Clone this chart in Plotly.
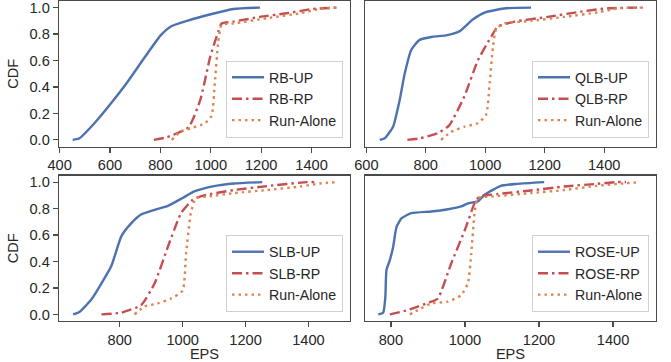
import plotly.graph_objects as go

# ---------------- data ----------------
# Panel 1: RB
rb_up_x = [452, 479, 538, 604, 670, 735, 801, 840, 906, 1000, 1090, 1195]
rb_up_y = [0.0, 0.013, 0.126, 0.277, 0.44, 0.617, 0.79, 0.856, 0.90, 0.95, 0.99, 1.0]
rb_rp_x = [774, 826, 912, 958, 998, 1030, 1043, 1090, 1195, 1300, 1405, 1500]
rb_rp_y = [0.0, 0.02, 0.096, 0.30, 0.63, 0.82, 0.88, 0.894, 0.93, 0.957, 0.99, 1.0]
rb_ra_x = [845, 878, 924, 976, 1003, 1016, 1029, 1043, 1090, 1222, 1354, 1433, 1500]
rb_ra_y = [0.0, 0.06, 0.09, 0.126, 0.18, 0.43, 0.73, 0.87, 0.88, 0.92, 0.957, 0.99, 1.0]

# Panel 2: QLB
qlb_up_x = [645, 662, 690, 712, 729, 751, 779, 823, 868, 913, 958, 1002, 1070, 1154]
qlb_up_y = [0.0, 0.013, 0.10, 0.30, 0.50, 0.68, 0.756, 0.78, 0.79, 0.82, 0.91, 0.965, 0.995, 1.0]
qlb_rp_x = [738, 783, 840, 879, 930, 975, 1020, 1042, 1098, 1211, 1323, 1413, 1530]
qlb_rp_y = [0.0, 0.013, 0.05, 0.11, 0.33, 0.60, 0.78, 0.856, 0.894, 0.93, 0.97, 0.995, 1.0]
qlb_ra_x = [851, 885, 930, 975, 1003, 1015, 1026, 1037, 1065, 1155, 1267, 1380, 1447, 1525]
qlb_ra_y = [0.0, 0.06, 0.10, 0.126, 0.19, 0.43, 0.70, 0.84, 0.88, 0.90, 0.93, 0.965, 0.995, 1.0]

# Panel 3: SLB
slb_up_x = [652, 673, 709, 742, 774, 805, 837, 868, 911, 953, 1000, 1037, 1100, 1163, 1253]
slb_up_y = [0.0, 0.02, 0.11, 0.235, 0.37, 0.59, 0.69, 0.755, 0.79, 0.82, 0.88, 0.93, 0.97, 0.99, 1.0]
slb_rp_x = [742, 805, 868, 911, 953, 995, 1032, 1068, 1163, 1268, 1395, 1420]
slb_rp_y = [0.0, 0.013, 0.07, 0.235, 0.51, 0.765, 0.866, 0.90, 0.94, 0.97, 1.0, 1.0]
slb_ra_x = [847, 879, 921, 963, 1000, 1011, 1026, 1042, 1079, 1163, 1268, 1374, 1437, 1490]
slb_ra_y = [0.0, 0.06, 0.083, 0.12, 0.18, 0.46, 0.765, 0.88, 0.89, 0.917, 0.94, 0.967, 0.99, 1.0]

# Panel 4: ROSE
rose_up_x = [766, 779, 785, 788, 797, 806, 815, 829, 855, 909, 954, 990, 1008, 1035, 1053, 1097, 1142, 1214]
rose_up_y = [0.0, 0.013, 0.134, 0.336, 0.41, 0.51, 0.66, 0.727, 0.765, 0.778, 0.795, 0.816, 0.84, 0.854, 0.904, 0.972, 0.987, 1.0]
rose_rp_x = [797, 846, 909, 927, 963, 1000, 1026, 1039, 1089, 1178, 1268, 1357, 1410, 1435]
rose_rp_y = [0.0, 0.033, 0.096, 0.12, 0.386, 0.64, 0.84, 0.89, 0.91, 0.937, 0.967, 0.987, 1.0, 1.0]
rose_ra_x = [851, 873, 909, 954, 990, 1008, 1017, 1026, 1035, 1071, 1178, 1268, 1357, 1428, 1473]
rose_ra_y = [0.0, 0.033, 0.083, 0.096, 0.146, 0.235, 0.46, 0.765, 0.88, 0.89, 0.917, 0.94, 0.972, 0.99, 1.0]

panel_names = ["RB", "QLB", "SLB", "ROSE"]
x_ticks = [[400, 600, 800, 1000, 1200, 1400],
           [600, 800, 1000, 1200, 1400],
           [800, 1000, 1200, 1400],
           [800, 1000, 1200, 1400]]
y_ticks = [0.0, 0.2, 0.4, 0.6, 0.8, 1.0]
x_ranges = [[397.5, 1552.5], [595.5, 1574.5], [607, 1532], [730, 1516]]

panels = [
    [(rb_up_x, rb_up_y), (rb_rp_x, rb_rp_y), (rb_ra_x, rb_ra_y)],
    [(qlb_up_x, qlb_up_y), (qlb_rp_x, qlb_rp_y), (qlb_ra_x, qlb_ra_y)],
    [(slb_up_x, slb_up_y), (slb_rp_x, slb_rp_y), (slb_ra_x, slb_ra_y)],
    [(rose_up_x, rose_up_y), (rose_rp_x, rose_rp_y), (rose_ra_x, rose_ra_y)],
]

# ---------------- style ----------------
BLUE = "#4c72b0"
RED = "#c44e52"
ORANGE = "#dd8452"
SPINE = "#4a4a4a"
TEXT = "#262626"
FONT = "Liberation Sans"
FS = 14.6
LFS = 14.2

W, H = 671, 362
ML, MR, MT, MB = 59, 15, 1, 41
pw = W - ML - MR
ph = H - MT - MB

col_px = [(59, 350), (365, 656)]
row_px = [(1, 146.5), (175.5, 321)]

def xd(px):
    return (px - ML) / pw

def yd(py):
    return (H - MB - py) / ph

fig = go.Figure()

styles = [
    dict(color=BLUE, width=2.4, dash="solid", shape="spline", smoothing=0.5),
    dict(color=RED, width=2.4, dash="10px,4px,2.5px,4px", shape="spline", smoothing=0.5),
    dict(color=ORANGE, width=2.4, dash="2.5px,4px", shape="spline", smoothing=0.5),
]

for i, name in enumerate(panel_names):
    r, c = divmod(i, 2)
    ax = "" if i == 0 else str(i + 1)
    labels = [f"{name}-UP", f"{name}-RP", "Run-Alone"]
    leg = "legend" if i == 0 else f"legend{i + 1}"
    for (xs, ys), lab, st in zip(panels[i], labels, styles):
        fig.add_trace(go.Scatter(
            x=xs, y=ys, mode="lines", name=lab, line=st,
            xaxis="x" + ax, yaxis="y" + ax, legend=leg,
        ))
    x0, x1 = col_px[c]
    y0, y1 = row_px[r]
    xa = dict(
        domain=[xd(x0), xd(x1)], range=x_ranges[i], anchor="y" + ax,
        tickvals=x_ticks[i], ticks="outside", ticklen=5, tickwidth=1.2,
        tickcolor=SPINE, showline=True, linecolor=SPINE, linewidth=1.3,
        mirror=True, showgrid=False, zeroline=False, automargin=False,
        ticklabeloverflow="allow",
        tickfont=dict(family=FONT, size=FS, color=TEXT),
    )
    if r == 1:
        xa["title"] = dict(text="EPS", font=dict(family=FONT, size=FS, color=TEXT), standoff=2)
    ya = dict(
        domain=[yd(y1), yd(y0)], range=[-0.05, 1.05], anchor="x" + ax,
        tickvals=y_ticks, ticktext=[f"{v:.1f}" for v in y_ticks],
        showline=True, linecolor=SPINE, linewidth=1.3, mirror=True,
        showgrid=False, zeroline=False, automargin=False,
        ticklabeloverflow="allow",
        tickfont=dict(family=FONT, size=FS, color=TEXT),
    )
    if c == 0:
        ya.update(ticks="outside", ticklen=5, tickwidth=1.2, tickcolor=SPINE,
                  title=dict(text="CDF", font=dict(family=FONT, size=FS, color=TEXT), standoff=7))
    else:
        ya.update(ticks="", showticklabels=False)
    fig.layout["xaxis" + ax] = xa
    fig.layout["yaxis" + ax] = ya

    fig.layout[leg] = dict(
        x=xd(x1 - 7), y=yd(y1 - 9), xanchor="right", yanchor="bottom",
        xref="paper", yref="paper",
        bgcolor="rgba(255,255,255,0.85)", bordercolor="#d0d0d0", borderwidth=1,
        font=dict(family=FONT, size=LFS, color=TEXT),
        itemwidth=32, tracegroupgap=0,
    )

fig.update_layout(
    width=W, height=H,
    margin=dict(l=ML, r=MR, t=MT, b=MB, pad=0, autoexpand=False),
    paper_bgcolor="white", plot_bgcolor="white",
    showlegend=True,
)

fig.write_html(
    "out.html",
    config={"displayModeBar": False, "staticPlot": True},
    post_script="document.body.style.margin='0';document.body.style.overflow='hidden';",
)
